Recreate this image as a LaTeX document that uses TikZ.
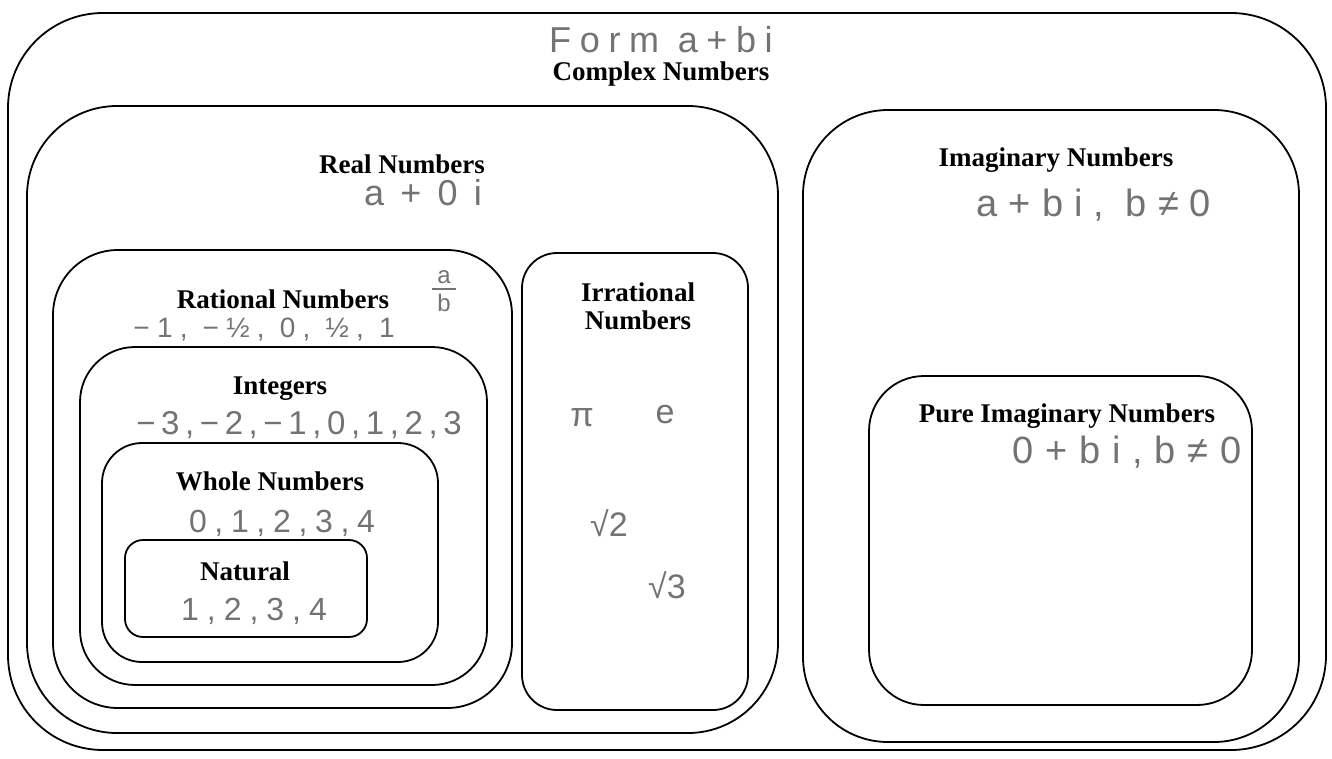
\documentclass[tikz,border=0pt]{standalone}
\usepackage{fontspec}
\usetikzlibrary{fit}
\setmainfont{Liberation Serif}
\newfontfamily\hand{Liberation Sans}
% handwriting face: size, letter spacing
\newcommand\hwface[2]{\hand\fontsize{#1}{#1}\selectfont\addfontfeature{LetterSpace=#2}}
\begin{document}
\begin{tikzpicture}[x=1pt,y=-1pt,
  setbox/.style={draw=black, line width=1.8pt, inner sep=0pt},
  title/.style={font=\fontsize{27}{28}\selectfont\bfseries, align=center, inner sep=0pt},
  hw/.style={text=black!55, inner sep=0pt},
  hwline/.style={draw=black!55, line width=1.4pt}]
  \useasboundingbox[fill=white] (0,0) rectangle (1332,758);

  % nested set regions
  \node[setbox, rounded corners=95pt, fit={(8,13) (1326,750)}] (complex) {};
  \node[setbox, rounded corners=90pt, fit={(27,106) (778,733)}] (real) {};
  \node[setbox, rounded corners=65pt, fit={(53,250) (512,708)}] (rational) {};
  \node[setbox, rounded corners=55pt, fit={(80,347) (487,685)}] (integers) {};
  \node[setbox, rounded corners=40pt, fit={(102,443) (438,662)}] (whole) {};
  \node[setbox, rounded corners=18pt, fit={(125,540) (367,637)}] (natural) {};
  \node[setbox, rounded corners=35pt, fit={(522,253) (748,710)}] (irrational) {};
  \node[setbox, rounded corners=85pt, fit={(803,110) (1299,742)}] (imaginary) {};
  \node[setbox, rounded corners=55pt, fit={(869,376) (1252,705)}] (pure) {};

  % printed headings
  \node[title] (tComplex) at (661,74) {Complex Numbers};
  \node[title] (tReal) at (402,164) {Real Numbers};
  \node[title] (tRational) at (283,299) {Rational Numbers};
  \node[title] (tIntegers) at (280,389) {Integers};
  \node[title] (tWhole) at (270,481) {Whole Numbers};
  \node[title] (tNatural) at (245,571) {Natural};
  \node[title] (tIrrational) at (638,306) {Irrational\\Numbers};
  \node[title] (tImaginary) at (1056,160) {Imaginary Numbers};
  \node[title] (tPure) at (1067,416) {Pure Imaginary Numbers};

  % handwritten notes
  \node[hw, font=\hwface{36}{24}] (hForm) at (661,40) {Form a+bi};
  \node[hw, font=\hwface{36}{45}] (hReal) at (423,193) {a+0i};
  \node[hw, font=\hwface{24}{0}] (fracA) at (444,277) {a};
  \node[hw, font=\hwface{24}{0}] (fracB) at (444,303) {b};
  \path (fracA) -- (fracB) coordinate[midway] (fracMid);
  \draw[hwline] ([xshift=-12pt]fracMid) -- ([xshift=12pt]fracMid);
  \node[hw, font=\hwface{28}{26}] (hRational) at (264,330) {−1, −½, 0, ½, 1};
  \node[hw, font=\hwface{33}{17}] (hIntegers) at (299,425) {−3,−2,−1,0,1,2,3};
  \node[hw, font=\hwface{32}{24}] (hWhole) at (282,523) {0,1,2,3,4};
  \node[hw, font=\hwface{32}{25}] (hNatural) at (254,611) {1,2,3,4};
  \node[hw, font=\hwface{34}{0}] (hPi) at (582,418) {π};
  \node[hw, font=\hwface{34}{0}] (hE) at (665,415) {e};
  \node[hw, font=\hwface{34}{0}] (hSqrtTwo) at (609,523) {√2};
  \node[hw, font=\hwface{34}{0}] (hSqrtThree) at (667,585) {√3};
  \node[hw, font=\hwface{38}{29}] (hImaginary) at (1094,205) {a+bi, b≠0};
  \node[hw, font=\hwface{38}{31}] (hPure) at (1127,452) {0+bi,b≠0};
\end{tikzpicture}
\end{document}
